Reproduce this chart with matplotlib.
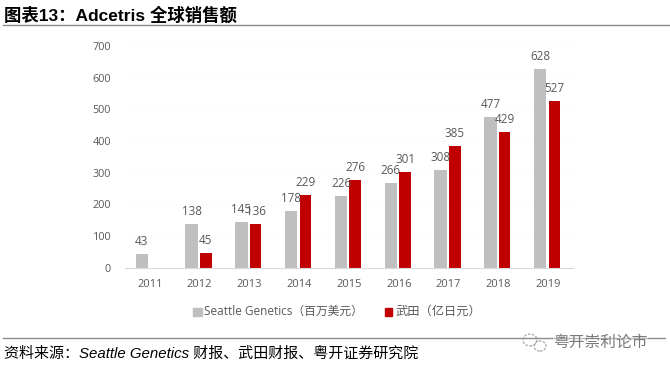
import matplotlib
matplotlib.use('Agg')
import matplotlib.pyplot as plt
from matplotlib.patches import Ellipse, Rectangle
from matplotlib.lines import Line2D
import numpy as np

CJK = 'Noto Sans CJK SC'
plt.rcParams['font.family'] = ['Open Sans', CJK, 'DejaVu Sans']

years = ['2011', '2012', '2013', '2014', '2015', '2016', '2017', '2018', '2019']
seattle = [43, 138, 145, 178, 226, 266, 308, 477, 628]
takeda = [None, 45, 136, 229, 276, 301, 385, 429, 527]
yticks = [0, 100, 200, 300, 400, 500, 600, 700]
title = '图表13：Adcetris 全球销售额'
source = '资料来源：Seattle Genetics 财报、武田财报、粤开证券研究院'
legend_a = 'Seattle Genetics（百万美元）'
legend_b = '武田（亿日元）'
watermark = '粤开崇利论市'

W, H = 670, 372
GRAY, RED, TXT = '#BFBFBF', '#C00000', '#595959'

fig = plt.figure(figsize=(W/100, H/100), dpi=100, facecolor='white')
ax = fig.add_axes([125/W, 1-267.5/H, 448/W, 221.5/H])
x = np.arange(len(years))
ax.bar(x-0.16, seattle, 0.25, color=GRAY, zorder=2)
ax.bar([i+0.125 for i, v in enumerate(takeda) if v is not None],
       [v for v in takeda if v is not None], 0.23, color=RED, zorder=2)
ax.set_xlim(-0.5, 8.5)
ax.set_ylim(0, 700)
ax.set_yticks(yticks)
ax.set_xticks(x, years)
ax.tick_params(axis='x', length=0, labelsize=8, labelcolor=TXT, pad=8)
ax.tick_params(axis='y', length=0, labelsize=7.8, labelcolor=TXT, pad=10)
for s in ('top', 'left', 'right'):
    ax.spines[s].set_visible(False)
ax.spines['bottom'].set_color('#D9D9D9')
ax.grid(axis='y', color='#FBFBFB', lw=0.6, zorder=0)

lab = dict(ha='center', va='bottom', fontsize=8.4, color=TXT, zorder=3)
for i, v in enumerate(seattle):
    ax.text(i-0.16, v+19, str(v), **lab)
for i, v in enumerate(takeda):
    if v is not None:
        ax.text(i+0.125, v+19, str(v), **lab)

def T(px, py, s, **kw):
    return fig.text(px/W, 1-py/H, s, **kw)

T(4, 14.5, title, fontsize=12.5, fontweight='bold', color='black', va='center', ha='left',
  family=['Liberation Sans', CJK])
fig.add_artist(Line2D([3/W, 1], [1-25/H]*2, color='#8C8C8C', lw=1))
fig.add_artist(Line2D([3/W, 665/W], [1-338/H]*2, color='#8C8C8C', lw=1))

fig.add_artist(Rectangle((193/W, 1-316/H), 9/W, 8/H, color=GRAY, transform=fig.transFigure))
T(204, 311.5, legend_a, fontsize=8.5, color=TXT, va='center', ha='left')
fig.add_artist(Rectangle((385/W, 1-316/H), 7/W, 8/H, color=RED, transform=fig.transFigure))
T(396, 311.5, legend_b, fontsize=8.8, color=TXT, va='center', ha='left')

T(4, 354, source, fontsize=10.8, style='italic', color='black', va='center', ha='left',
  family=['Liberation Sans', CJK])

T(553, 342.5, watermark, fontsize=11.3, color='#7A7A7A', va='center', ha='left', family=[CJK],
  bbox=dict(fc='white', ec='none', alpha=0.4, pad=0))
for cx, cy, rx in ((530, 340, 7), (540, 346, 6)):
    fig.add_artist(Ellipse((cx/W, 1-cy/H), 2*rx/W, 1.7*rx/H, fill=False,
                   ec='#A5A5A5', lw=0.9, ls=(0, (2, 1.2)), transform=fig.transFigure))
fig.savefig('out.png', dpi=100)
